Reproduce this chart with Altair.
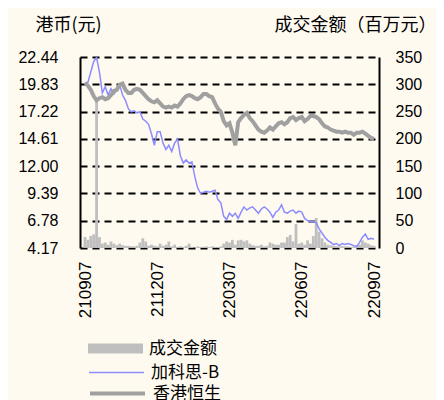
import altair as alt
import pandas as pd

x_labels = ["210907", "211207", "220307", "220607", "220907"]
left_ticks = [4.17, 6.78, 9.39, 12.00, 14.61, 17.22, 19.83, 22.44]
right_ticks = [0, 50, 100, 150, 200, 250, 300, 350]

price = [19.9, 20.0, 21.0, 22.0, 22.4, 21.0, 19.0, 19.6, 18.8, 19.4,
         18.9, 19.3, 19.8, 18.8, 18.3, 17.5, 17.2, 17.3, 17.1, 17.2,
         16.5, 16.3, 16.0, 15.1, 14.0, 15.3, 15.3, 14.2, 13.6, 14.0,
         13.4, 14.2, 14.6, 13.0, 12.3, 12.6, 12.3, 12.4, 11.0, 9.9,
         9.4, 9.5, 9.6, 9.5, 9.6, 9.7, 8.8, 8.5, 7.2, 6.9,
         7.5, 7.2, 7.5, 7.0, 7.6, 8.1, 7.8, 8.0, 8.1, 7.8,
         7.5, 7.9, 8.1, 7.9, 7.6, 7.1, 7.6, 7.8, 8.3, 7.6,
         7.5, 7.7, 7.8, 7.5, 7.7, 7.6, 7.0, 6.8, 6.7, 6.7,
         6.6, 6.0, 5.6, 5.2, 4.9, 4.7, 4.5, 4.6, 4.4, 4.6,
         4.5, 4.6, 4.5, 4.4, 4.3, 4.7, 5.2, 5.5, 5.0, 5.1,
         5.0]

hsi = [20.0, 19.7, 19.3, 18.7, 18.3, 18.5, 18.6, 18.4, 18.5, 18.8,
       19.2, 19.3, 19.8, 19.9, 19.3, 19.0, 19.0, 19.3, 19.4, 19.3,
       19.0, 18.7, 18.4, 18.2, 18.1, 18.3, 18.0, 17.7, 17.6, 17.7,
       17.6, 17.8, 17.7, 18.0, 18.4, 18.7, 18.8, 18.7, 18.5, 18.4,
       18.6, 18.9, 18.9, 18.7, 18.6, 18.0, 17.5, 17.2, 16.3, 15.9,
       16.1, 15.2, 14.0, 16.2, 16.6, 16.9, 17.1, 16.6, 16.3, 15.9,
       15.5, 15.3, 15.2, 15.4, 15.7, 15.5, 15.8, 16.1, 16.2, 16.0,
       16.2, 16.6, 16.7, 16.4, 16.6, 16.7, 16.3, 16.5, 16.8, 16.8,
       16.7, 16.5, 16.1, 15.8, 15.7, 15.5, 15.4, 15.3, 15.3, 15.2,
       15.3, 15.2, 15.2, 15.0, 15.2, 15.2, 15.3, 15.1, 14.9, 14.7,
       14.6]

volume = [20, 15, 22, 25, 275, 20, 8, 10, 6, 12,
          8, 5, 8, 5, 4, 4, 3, 3, 4, 10,
          18, 12, 4, 6, 4, 3, 8, 4, 6, 12,
          3, 6, 2, 3, 2, 4, 8, 2, 0, 3,
          2, 2, 3, 2, 3, 2, 2, 3, 8, 12,
          10, 15, 6, 14, 15, 12, 14, 8, 5, 4,
          4, 6, 3, 4, 10, 8, 6, 6, 10, 10,
          20, 24, 12, 44, 8, 10, 6, 14, 8, 22,
          55, 30, 18, 10, 6, 5, 4, 3, 3, 4,
          3, 3, 2, 3, 5, 6, 14, 10, 8, 5,
          4]

names = ["成交金额", "加科思-B", "香港恒生"]

def frame(vals, name):
    n = len(vals)
    return pd.DataFrame({"i": [k * 100.0 / (n - 1) for k in range(n)],
                         "v": vals, "s": [name] * n})

df_vol = frame(volume, names[0])
df_price = frame(price, names[1])
df_hsi = frame(hsi, names[2])

CJK = "Noto Sans CJK SC"
NUM = "Liberation Sans"

label_expr = "[" + ",".join("'%s'" % s for s in x_labels) + "][round(datum.value/25)]"
x_enc = alt.X("i:Q", scale=alt.Scale(domain=[0, 100], nice=False, zero=False),
              axis=alt.Axis(values=[0, 25, 50, 75, 100], labelExpr=label_expr,
                            labelAngle=-90, domain=False, ticks=False, grid=False,
                            labelPadding=13, labelFontSize=17, labelFont=NUM,
                            labelColor="black", title=None))

left_axis = alt.Axis(values=left_ticks, format=".2f", orient="left", grid=True,
                     gridDash=[7, 5], gridColor="black", gridWidth=2,
                     domain=True, domainColor="black", domainWidth=2, ticks=False,
                     labelPadding=22, labelFontSize=16, labelFont=NUM, labelColor="black",
                     title="港币(元)", titleAngle=0, titleX=-12, titleY=-32,
                     titleAlign="center", titleBaseline="middle", titleFont=CJK,
                     titleFontSize=18, titleFontWeight="normal", titleColor="black")
y_left = alt.Y("v:Q", scale=alt.Scale(domain=[4.17, 22.44], nice=False, zero=False),
               axis=left_axis)

right_axis = alt.Axis(values=right_ticks, orient="right", grid=False,
                      domain=True, domainColor="black", domainWidth=2, ticks=False,
                      labelPadding=16, labelFontSize=16, labelFont=NUM, labelColor="black",
                      title="成交金额（百万元）", titleAngle=0, titleX=-24, titleY=-32,
                      titleAlign="center", titleBaseline="middle", titleFont=CJK,
                      titleFontSize=18, titleFontWeight="normal", titleColor="black")
y_right = alt.Y("v:Q", scale=alt.Scale(domain=[0, 350], nice=False), axis=right_axis)

def leg(y, stype, sw):
    return alt.Legend(orient="none", legendX=8, legendY=y, title=None, padding=0,
                      symbolType=stype, symbolSize=3025, symbolStrokeWidth=sw,
                      labelFont=CJK, labelFontSize=17, labelColor="black",
                      labelOffset=6)

bars = alt.Chart(df_vol).mark_bar(size=2.8, clip=True).encode(
    x=x_enc, y=y_right,
    color=alt.Color("s:N", scale=alt.Scale(domain=[names[0]], range=["#BFBFBF"]),
                    legend=leg(264, "M-1,-0.18L1,-0.18L1,0.18L-1,0.18Z", 0)))

line_price = alt.Chart(df_price).mark_line(strokeWidth=1.5, clip=True).encode(
    x=x_enc, y=y_left,
    color=alt.Color("s:N", scale=alt.Scale(domain=[names[1]], range=["#8C8CFF"]),
                    legend=leg(287, "stroke", 1.5)))

line_hsi = alt.Chart(df_hsi).mark_line(strokeWidth=4, clip=True).encode(
    x=x_enc, y=y_left,
    color=alt.Color("s:N", scale=alt.Scale(domain=[names[2]], range=["#A0A0A0"]),
                    legend=leg(307, "stroke", 4)))

lines = alt.layer(line_price, line_hsi).resolve_scale(color="independent")

chart = alt.layer(bars, lines).resolve_scale(y="independent", color="independent").properties(
    width=299, height=191,
    autosize=alt.AutoSizeParams(type="none"),
    padding={"left": 72, "top": 49, "right": 57, "bottom": 152},
    background="#FFFAF0",
).configure_view(strokeWidth=0)

chart.save("out.html", embed_options={"renderer": "svg", "actions": False})
